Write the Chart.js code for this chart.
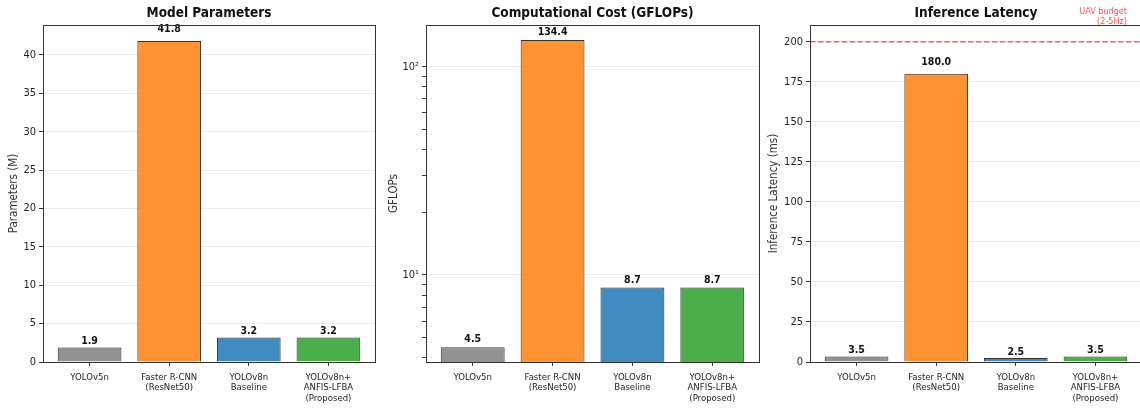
<!DOCTYPE html>
<html>
<head>
<meta charset="utf-8">
<script src="https://cdn.jsdelivr.net/npm/chart.js@4.4.1/dist/chart.umd.min.js"></script>
<style>
  html, body { margin: 0; padding: 0; background: #fff; overflow: hidden; }
  body { width: 1140px; height: 410px; position: relative; }
  canvas { position: absolute; top: 0; }
</style>
</head>
<body>
<canvas id="paramsChart" width="380" height="410" style="left:0"></canvas>
<canvas id="flopsChart" width="382" height="410" style="left:380px"></canvas>
<canvas id="latencyChart" width="385" height="410" style="left:760px"></canvas>
<script>
    // data
    const models = [
        ['YOLOv5n'],
        ['Faster R-CNN', '(ResNet50)'],
        ['YOLOv8n', 'Baseline'],
        ['YOLOv8n+', 'ANFIS-LFBA', '(Proposed)']
    ];
    const paramsM = [1.9, 41.8, 3.2, 3.2];
    const gflops = [4.5, 134.4, 8.7, 8.7];
    const latencyMs = [3.5, 180.0, 2.5, 3.5];
    const uavBudgetMs = 200;

    const paramTicks = [0, 5, 10, 15, 20, 25, 30, 35, 40];
    const latencyTicks = [0, 25, 50, 75, 100, 125, 150, 175, 200];
    const flopsMajorTicks = [10, 100];
    const flopsMinorTicks = [4, 5, 6, 7, 8, 9, 20, 30, 40, 50, 60, 70, 80, 90];

    const barColors = [
        'rgba(127, 127, 127, 0.85)',
        'rgba(255, 127, 14, 0.85)',
        'rgba(31, 119, 180, 0.85)',
        'rgba(44, 160, 44, 0.85)'
    ];

    const FONT = "'DejaVu Sans Condensed', 'Liberation Sans Narrow', 'DejaVu Sans', sans-serif";
    Chart.defaults.font.family = FONT;
    Chart.defaults.color = '#222';

    // frame, title and bar value labels
    const panelDecor = {
        id: 'panelDecor',
        afterDatasetsDraw(chart, args, opts) {
            const ctx = chart.ctx;
            const y = chart.scales.y;
            const meta = chart.getDatasetMeta(0);
            ctx.save();
            ctx.font = 'bold 10.5px ' + FONT;
            ctx.fillStyle = '#111';
            ctx.textAlign = 'center';
            ctx.textBaseline = 'alphabetic';
            chart.data.datasets[0].data.forEach((d, i) => {
                const py = y.getPixelForValue(d.y * 1.02) - 3;
                ctx.fillText(d.y.toFixed(1), meta.data[i].x, py);
            });
            ctx.restore();
        },
        afterDraw(chart, args, opts) {
            const ctx = chart.ctx;
            const a = chart.chartArea;
            ctx.save();
            ctx.strokeStyle = '#333';
            ctx.lineWidth = 1;
            ctx.strokeRect(Math.round(a.left) + 0.5, Math.round(a.top) + 0.5,
                Math.round(a.right - a.left), Math.round(a.bottom - a.top));
            ctx.font = 'bold 13.5px ' + FONT;
            ctx.fillStyle = '#111';
            ctx.textAlign = 'center';
            ctx.textBaseline = 'middle';
            ctx.fillText(opts.title, (a.left + a.right) / 2, 13);
            ctx.restore();
        }
    };

    // red dashed UAV budget line (latency panel only)
    const budgetLine = {
        id: 'budgetLine',
        afterDraw(chart) {
            const ctx = chart.ctx;
            const a = chart.chartArea;
            const py = chart.scales.y.getPixelForValue(uavBudgetMs);
            ctx.save();
            ctx.strokeStyle = 'rgba(255, 0, 0, 0.6)';
            ctx.lineWidth = 1.5;
            ctx.setLineDash([5.5, 2.4]);
            ctx.beginPath();
            ctx.moveTo(a.left, py);
            ctx.lineTo(a.right, py);
            ctx.stroke();
            ctx.setLineDash([]);
            ctx.fillStyle = 'rgba(255, 0, 0, 0.7)';
            ctx.font = '9px ' + FONT;
            ctx.textAlign = 'right';
            ctx.textBaseline = 'middle';
            ctx.fillText('UAV budget', 367, 11.5);
            ctx.fillText('(2-5Hz)', 367, 22);
            ctx.restore();
        }
    };

    function makeChart(id, title, yTitle, values, yScale, axisWidth, padRight, extra) {
        return new Chart(document.getElementById(id), {
            type: 'bar',
            data: {
                datasets: [{
                    data: values.map((v, i) => ({ x: i, y: v })),
                    backgroundColor: barColors,
                    borderColor: 'rgba(0, 0, 0, 0.8)',
                    borderWidth: 1,
                    barPercentage: 0.8,
                    categoryPercentage: 1
                }]
            },
            options: {
                responsive: false,
                animation: false,
                layout: { padding: { top: 25, right: padRight, left: 0, bottom: 0 } },
                plugins: {
                    legend: { display: false },
                    tooltip: { enabled: false },
                    panelDecor: { title: title }
                },
                scales: {
                    x: {
                        type: 'linear',
                        offset: false,
                        min: -0.585,
                        max: 3.585,
                        afterBuildTicks: s => { s.ticks = models.map((_, i) => ({ value: i })); },
                        afterFit: s => { s.height = 48; },
                        ticks: {
                            autoSkip: false,
                            maxRotation: 0,
                            padding: 6,
                            font: { size: 9.5, lineHeight: 1.12 },
                            color: '#222',
                            callback: v => models[v]
                        },
                        grid: { offset: false, drawOnChartArea: false, tickLength: 4, tickColor: '#333' },
                        border: { color: '#333' }
                    },
                    y: Object.assign({
                        afterFit: s => { s.width = axisWidth; },
                        title: {
                            display: true,
                            text: yTitle,
                            font: { size: 11.5 },
                            color: '#333',
                            padding: { top: 7, bottom: 0 }
                        },
                        grid: {
                            tickLength: 4,
                            tickColor: '#333',
                            color: c => (c.tick && c.tick.minor) ? 'rgba(0,0,0,0)' : 'rgba(0,0,0,0.08)'
                        },
                        border: { color: '#333' }
                    }, yScale)
                }
            },
            plugins: [panelDecor].concat(extra || [])
        });
    }

    makeChart('paramsChart', 'Model Parameters', 'Parameters (M)', paramsM, {
        type: 'linear',
        min: 0,
        max: 43.9,
        afterBuildTicks: s => { s.ticks = paramTicks.map(v => ({ value: v })); },
        ticks: { font: { size: 11 }, color: '#222', padding: 3 }
    }, 43, 5);

    makeChart('flopsChart', 'Computational Cost (GFLOPs)', 'GFLOPs', gflops, {
        type: 'logarithmic',
        min: 3.82,
        max: 158.5,
        afterBuildTicks: s => {
            s.ticks = flopsMinorTicks.map(v => ({ value: v, minor: true }))
                .concat(flopsMajorTicks.map(v => ({ value: v })))
                .sort((p, q) => p.value - q.value);
        },
        ticks: {
            font: { size: 11 },
            color: '#222',
            padding: 3,
            callback: v => v === 10 ? '10\u00b9' : (v === 100 ? '10\u00b2' : '')
        }
    }, 46, 3);

    makeChart('latencyChart', 'Inference Latency', 'Inference Latency (ms)', latencyMs, {
        type: 'linear',
        min: 0,
        max: 210.4,
        afterBuildTicks: s => { s.ticks = latencyTicks.map(v => ({ value: v })); },
        ticks: { font: { size: 11 }, color: '#222', padding: 3 }
    }, 50, 3, [budgetLine]);
</script>
</body>
</html>
